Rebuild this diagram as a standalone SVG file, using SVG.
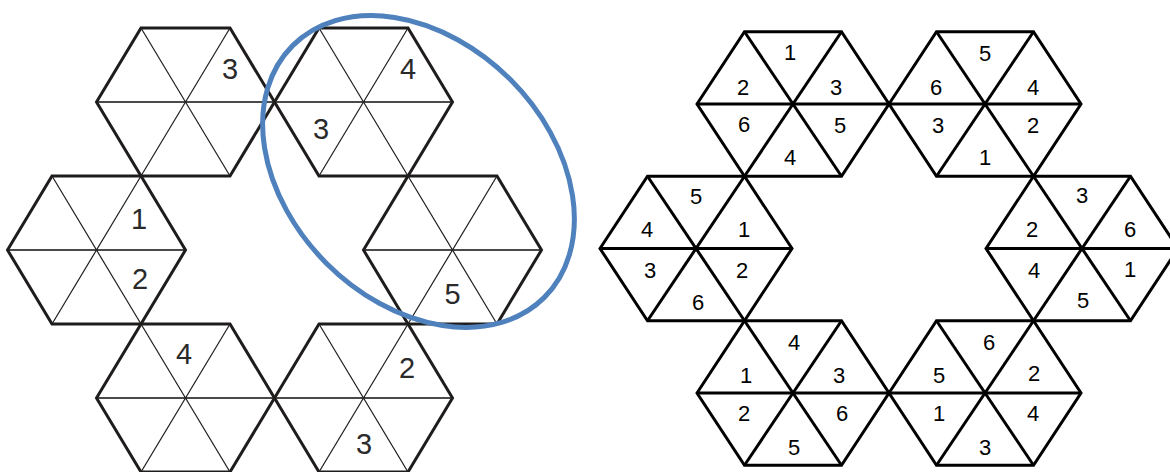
<svg xmlns="http://www.w3.org/2000/svg" xmlns:xlink="http://www.w3.org/1999/xlink" width="1170" height="472" viewBox="0 0 1170 472">
<style>
.lo{fill:none;stroke:#1f1c1c;stroke-width:3;stroke-linejoin:miter}
.ld{fill:none;stroke:#1f1c1c;stroke-width:1.2}
.lh{fill:none;stroke:#4a4a4a;stroke-width:1.8}
.ro{fill:none;stroke:#000;stroke-width:3;stroke-linejoin:miter}
.ri{fill:none;stroke:#000;stroke-width:3}
.tl{font-family:"Liberation Sans",Arial,sans-serif;font-size:29px;fill:#2a2a2a;text-anchor:middle}
.tr{font-family:"Liberation Sans",Arial,sans-serif;font-size:22px;fill:#000;text-anchor:middle}
.ring{fill:none;stroke:#4f81bd;stroke-width:5}
</style>
<defs>
<g id="hexL">
<line class="lh" x1="-89" y1="0" x2="89" y2="0"/>
<line class="ld" x1="-44.5" y1="-74" x2="44.5" y2="74"/>
<line class="ld" x1="44.5" y1="-74" x2="-44.5" y2="74"/>
<polygon class="lo" points="-89,0 -44.5,-74 44.5,-74 89,0 44.5,74 -44.5,74"/>
</g>
<g id="hexR">
<line class="ri" x1="-96" y1="0" x2="96" y2="0"/>
<line class="ri" x1="-48.5" y1="-72.25" x2="48.5" y2="72.25"/>
<line class="ri" x1="48.5" y1="-72.25" x2="-48.5" y2="72.25"/>
<polygon class="ro" points="-96,0 -48.5,-72.25 48.5,-72.25 96,0 48.5,72.25 -48.5,72.25"/>
</g>
</defs>
<rect width="1170" height="472" fill="#fff"/>

<!-- Left figure -->
<g id="left-figure">
<g id="L-A" transform="translate(185.5,102)"><use href="#hexL"/><text class="tl" x="44.5" y="-23.5">3</text></g>
<g id="L-B" transform="translate(363.5,102)"><use href="#hexL"/><text class="tl" x="44.5" y="-23.5">4</text><text class="tl" x="-42.5" y="36.5">3</text></g>
<g id="L-C" transform="translate(452.5,250)"><use href="#hexL"/><text class="tl" x="0" y="53.5">5</text></g>
<g id="L-D" transform="translate(96.5,250)"><use href="#hexL"/><text class="tl" x="42.5" y="-21.5">1</text><text class="tl" x="43.5" y="38.5">2</text></g>
<g id="L-E" transform="translate(185.5,398)"><use href="#hexL"/><text class="tl" x="-1.5" y="-34.5">4</text></g>
<g id="L-F" transform="translate(363.5,398)"><use href="#hexL"/><text class="tl" x="43.5" y="-20.5">2</text><text class="tl" x="0.5" y="55.5">3</text></g>
</g>

<g id="connectors">
<ellipse class="ring" cx="418.5" cy="171.5" rx="178" ry="130" transform="rotate(45 418.5 171.5)"/>
</g>

<!-- Right figure -->
<g id="right-figure">
<g id="R-1"><use href="#hexR" transform="translate(793,104)"/>
<text class="tr" x="790" y="60">1</text><text class="tr" x="743" y="95">2</text><text class="tr" x="836" y="95">3</text>
<text class="tr" x="744" y="132">6</text><text class="tr" x="840" y="133">5</text><text class="tr" x="790" y="165">4</text></g>
<g id="R-2"><use href="#hexR" transform="translate(985,104)"/>
<text class="tr" x="985" y="61">5</text><text class="tr" x="936" y="95">6</text><text class="tr" x="1033" y="95">4</text>
<text class="tr" x="938" y="133">3</text><text class="tr" x="1033" y="133">2</text><text class="tr" x="985" y="165">1</text></g>
<g id="R-3"><use href="#hexR" transform="translate(1082,248.5)"/>
<text class="tr" x="1082" y="203">3</text><text class="tr" x="1032" y="237">2</text><text class="tr" x="1130" y="237">6</text>
<text class="tr" x="1034" y="278">4</text><text class="tr" x="1130" y="277">1</text><text class="tr" x="1083" y="308">5</text></g>
<g id="R-4"><use href="#hexR" transform="translate(985,393)"/>
<text class="tr" x="989" y="350">6</text><text class="tr" x="939" y="383">5</text><text class="tr" x="1034" y="381">2</text>
<text class="tr" x="939" y="421">1</text><text class="tr" x="1033" y="421">4</text><text class="tr" x="985" y="455">3</text></g>
<g id="R-5"><use href="#hexR" transform="translate(793,393)"/>
<text class="tr" x="794" y="350">4</text><text class="tr" x="746" y="383">1</text><text class="tr" x="839" y="383">3</text>
<text class="tr" x="744" y="421">2</text><text class="tr" x="842" y="421">6</text><text class="tr" x="794" y="455">5</text></g>
<g id="R-6"><use href="#hexR" transform="translate(696,248.5)"/>
<text class="tr" x="696" y="204">5</text><text class="tr" x="647" y="237">4</text><text class="tr" x="744" y="237">1</text>
<text class="tr" x="650" y="278">3</text><text class="tr" x="742" y="278">2</text><text class="tr" x="698" y="310">6</text></g>
</g>
</svg>
